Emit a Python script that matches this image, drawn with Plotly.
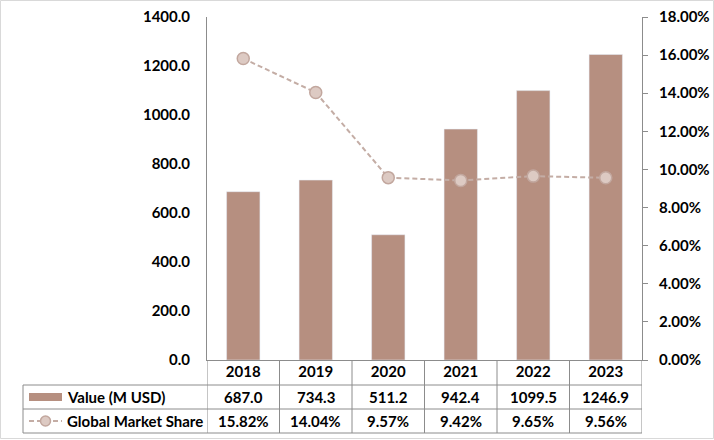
import plotly.graph_objects as go

years = ["2018", "2019", "2020", "2021", "2022", "2023"]
values = [687.0, 734.3, 511.2, 942.4, 1099.5, 1246.9]
share = [0.1582, 0.1404, 0.0957, 0.0942, 0.0965, 0.0956]
value_name = "Value (M USD)"
share_name = "Global Market Share"

W, H = 714, 440
L, R, T, B = 207, 72, 17, 80
PW, PH = W - L - R, H - T - B

def px(x):
    return (x - L) / PW

def py(y):
    return (H - B - y) / PH

FONT = "Lato"
FS = 15
BAR_C = "#B68F80"
LINE_C = "#C4ADA5"
MK_FILL = "#DDCAC3"
MK_LINE = "#C2A79E"
GRID_C = "#8C8C8C"
DASH = "5px,3px"

xs = list(range(len(years)))

fig = go.Figure()
fig.add_trace(go.Bar(x=xs, y=values, marker_color=BAR_C, width=0.46, name=value_name,
                     showlegend=False))
fig.add_trace(go.Scatter(x=xs, y=share, yaxis="y2", mode="lines+markers", name=share_name,
                         line=dict(color=LINE_C, width=2, dash=DASH),
                         marker=dict(size=12, color=MK_FILL, line=dict(color=MK_LINE, width=1.5)),
                         showlegend=False))

shapes = []
# outer frame
shapes.append(dict(type="rect", xref="paper", yref="paper", x0=px(0.5), x1=px(713.5),
                   y0=py(438.5), y1=py(0.5), line=dict(color="#D9D9D9", width=1)))
# table horizontal lines
for yy in [385, 409, 433]:
    shapes.append(dict(type="line", xref="paper", yref="paper", x0=px(23), x1=1,
                       y0=py(yy), y1=py(yy), line=dict(color=GRID_C, width=1)))
# table vertical lines
for i in range(len(years) + 1):
    shapes.append(dict(type="line", xref="x", yref="paper", x0=i - 0.5, x1=i - 0.5,
                       y0=py(433), y1=0, line=dict(color=GRID_C, width=1)))
shapes.append(dict(type="line", xref="paper", yref="paper", x0=px(23), x1=px(23),
                   y0=py(433), y1=py(385), line=dict(color=GRID_C, width=1)))
# legend keys
shapes.append(dict(type="rect", xref="paper", yref="paper", x0=px(29), x1=px(62),
                   y0=py(401), y1=py(393), line=dict(width=0), fillcolor=BAR_C))
shapes.append(dict(type="line", xref="paper", yref="paper", x0=px(29), x1=px(62),
                   y0=py(421), y1=py(421), line=dict(color=LINE_C, width=2, dash=DASH)))
shapes.append(dict(type="circle", xref="paper", yref="paper", x0=px(40.5), x1=px(50.5),
                   y0=py(426), y1=py(416), fillcolor=MK_FILL, line=dict(color=MK_LINE, width=1.5)))

annotations = []
tf = dict(family=FONT, size=FS, color="black", weight="bold")
annotations.append(dict(text=value_name, xref="paper", yref="paper", x=px(65), y=py(397),
                        xanchor="left", yanchor="middle", showarrow=False, font=tf))
annotations.append(dict(text=share_name, xref="paper", yref="paper", x=px(65), y=py(421),
                        xanchor="left", yanchor="middle", showarrow=False, font=tf))
for i in xs:
    annotations.append(dict(text=f"{values[i]:.1f}", xref="x", yref="paper", x=i, y=py(397),
                            xanchor="center", yanchor="middle", showarrow=False, font=tf))
    annotations.append(dict(text=f"{share[i]*100:.2f}%", xref="x", yref="paper", x=i, y=py(421),
                            xanchor="center", yanchor="middle", showarrow=False, font=tf))

fig.update_layout(
    width=W, height=H,
    margin=dict(l=L, r=R, t=T, b=B, autoexpand=False),
    plot_bgcolor="white", paper_bgcolor="white",
    font=dict(family=FONT, size=FS, color="black", weight="bold"),
    bargap=0.54,
    xaxis=dict(range=[-0.5, len(years) - 0.5], tickvals=xs, ticktext=years,
               showgrid=False, zeroline=False, showline=True, linecolor=GRID_C, linewidth=1,
               ticks="", ticklabelstandoff=-2, tickfont=tf),
    yaxis=dict(range=[0, 1400], dtick=200, tickformat=".1f", showgrid=False, zeroline=False,
               showline=True, linecolor=GRID_C, linewidth=1, ticks="",
               ticklabelstandoff=13, tickfont=tf),
    yaxis2=dict(range=[0, 0.18], dtick=0.02, tickformat=".2%", overlaying="y", side="right",
                showgrid=False, zeroline=False, showline=True, linecolor=GRID_C, linewidth=1,
                ticks="outside", ticklen=5, tickcolor=GRID_C, ticklabelstandoff=8, tickfont=tf),
    shapes=shapes, annotations=annotations,
)

fig.write_html("out.html", config={"displayModeBar": False},
               post_script="document.body.style.margin='0';")
